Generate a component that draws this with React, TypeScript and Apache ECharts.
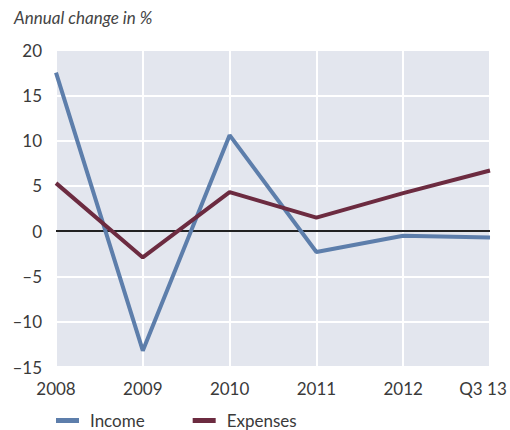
import React, { useEffect, useRef } from "react";
import * as echarts from "echarts";

const categories = ["2008", "2009", "2010", "2011", "2012", "Q3 13"];
const income = [17.5, -13.2, 10.6, -2.3, -0.5, -0.7];
const expenses = [5.3, -2.9, 4.3, 1.5, 4.2, 6.7];
const yTicks = { min: -15, max: 20, interval: 5 };
const title = "Annual change in %";
const seriesNames = ["Income", "Expenses"];

const FONT = "Lato, 'Open Sans', sans-serif";

export default function App() {
  const ref = useRef<HTMLDivElement>(null);
  useEffect(() => {
    document.body.style.margin = "0";
    const chart = echarts.init(ref.current!, null, { renderer: "svg" });
    chart.setOption({
      animation: false,
      backgroundColor: "#ffffff",
      title: {
        text: title,
        left: 14,
        top: 9,
        padding: 0,
        textStyle: { fontFamily: FONT, fontStyle: "italic", fontWeight: "normal", fontSize: 17, color: "#444" },
      },
      legend: {
        left: 56,
        top: 412,
        padding: 0,
        itemWidth: 23,
        itemHeight: 5,
        itemGap: 48,
        icon: "rect",
        textStyle: { fontFamily: FONT, fontSize: 17, color: "#3a3a3a", padding: [0, 0, 0, 6] },
        data: seriesNames,
      },
      grid: {
        left: 56,
        right: 20,
        top: 50,
        bottom: 63,
        show: true,
        backgroundColor: "#e3e6ee",
        borderWidth: 0,
      },
      xAxis: {
        type: "category",
        data: categories,
        boundaryGap: false,
        axisLine: { show: false },
        axisTick: { show: false },
        splitLine: { show: true, interval: 0, lineStyle: { color: "#ffffff", width: 2 } },
        axisLabel: {
          interval: 0,
          fontFamily: FONT,
          fontSize: 17,
          color: "#3a3a3a",
          margin: 13,
          formatter: (v: string, i: number) => (i === categories.length - 1 ? "{q|" + v + "}" : v),
          rich: { q: { fontFamily: FONT, fontSize: 17, color: "#3a3a3a", padding: [0, 14, 0, 0] } },
        },
      },
      yAxis: {
        type: "value",
        min: yTicks.min,
        max: yTicks.max,
        interval: yTicks.interval,
        axisLine: { show: false },
        axisTick: { show: false },
        splitLine: { show: true, lineStyle: { color: "#ffffff", width: 2 } },
        axisLabel: {
          fontFamily: FONT,
          fontSize: 17,
          color: "#3a3a3a",
          margin: 14,
          formatter: (v: number) => String(v).replace("-", "\u2013"),
        },
      },
      series: [
        {
          name: seriesNames[0],
          type: "line",
          data: income,
          symbol: "none",
          lineStyle: { color: "#5d7eab", width: 4 },
          itemStyle: { color: "#5d7eab" },
          z: 3,
          markLine: {
            silent: true,
            symbol: "none",
            label: { show: false },
            lineStyle: { color: "#222222", width: 2, type: "solid" },
            data: [{ yAxis: 0 }],
            z: 2,
          },
        },
        {
          name: seriesNames[1],
          type: "line",
          data: expenses,
          symbol: "none",
          lineStyle: { color: "#6c2b40", width: 4 },
          itemStyle: { color: "#6c2b40" },
          z: 4,
        },
      ],
    });
    return () => chart.dispose();
  }, []);
  return <div ref={ref} style={{ width: 510, height: 430, position: "absolute", left: 0, top: 0 }} />;
}
